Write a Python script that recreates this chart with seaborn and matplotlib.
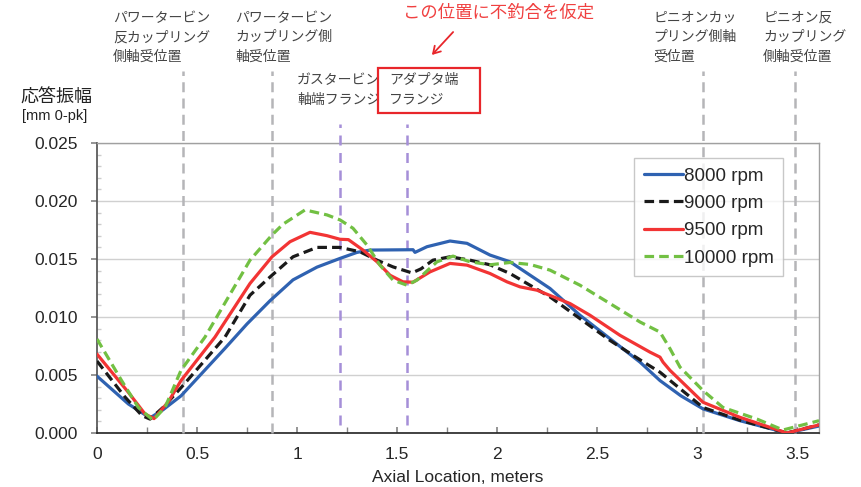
import numpy as np
import pandas as pd
import matplotlib
matplotlib.use("Agg")
import matplotlib.pyplot as plt
from matplotlib.patches import Rectangle, FancyArrowPatch
from matplotlib.ticker import MultipleLocator, FormatStrFormatter, FuncFormatter
import seaborn as sns

# ---------------- data ----------------
x_8000 = [0, 0.157, 0.265, 0.33, 0.42, 0.64, 0.75, 0.865, 0.98, 1.1, 1.215, 1.3, 1.365, 1.58,
          1.59, 1.65, 1.765, 1.85, 1.965, 2.065, 2.265, 2.415, 2.565, 2.715, 2.815, 2.92, 3.03,
          3.215, 3.45, 3.61]
y_8000 = [0.0049, 0.0025, 0.0013, 0.0020, 0.0032, 0.0073, 0.0094, 0.0114, 0.0132, 0.0143, 0.01505,
          0.01557, 0.01577, 0.0158, 0.01557, 0.01606, 0.01655, 0.01635, 0.01534, 0.01476, 0.01246,
          0.01015, 0.00813, 0.00611, 0.00452, 0.0032, 0.00208, 0.00106, 0.0000, 0.0006]

x_9000 = [0, 0.14, 0.225, 0.265, 0.33, 0.42, 0.64, 0.765, 0.875, 0.98, 1.1, 1.215, 1.315, 1.4,
          1.48, 1.575, 1.62, 1.68, 1.765, 1.865, 1.965, 2.065, 2.265, 2.415, 2.565, 2.715, 2.815,
          3.03, 3.215, 3.45, 3.61]
y_9000 = [0.0062, 0.0031, 0.0015, 0.0012, 0.0022, 0.0039, 0.00827, 0.01188, 0.0136, 0.01519,
          0.0160, 0.0160, 0.01562, 0.0149, 0.01432, 0.0138, 0.01415, 0.0149, 0.01519, 0.0149,
          0.0145, 0.01375, 0.01173, 0.00986, 0.00798, 0.00631, 0.00524, 0.0022, 0.0011, 0.0000,
          0.0007]

x_9500 = [0, 0.157, 0.24, 0.285, 0.357, 0.42, 0.59, 0.765, 0.875, 0.965, 1.065, 1.15, 1.215,
          1.257, 1.33, 1.4, 1.465, 1.53, 1.58, 1.665, 1.765, 1.85, 1.965, 2.05, 2.115, 2.2, 2.365,
          2.465, 2.615, 2.765, 2.815, 2.83, 2.865, 3.03, 3.215, 3.45, 3.61]
y_9500 = [0.0068, 0.0035, 0.00164, 0.00124, 0.0027, 0.00452, 0.00827, 0.01289, 0.01519, 0.01649,
          0.0173, 0.01701, 0.0167, 0.01667, 0.01577, 0.01476, 0.0136, 0.01303, 0.0130, 0.01389,
          0.01462, 0.01447, 0.01375, 0.01303, 0.0126, 0.01231, 0.01116, 0.01015, 0.00842, 0.00697,
          0.00654, 0.00611, 0.0054, 0.00265, 0.00135, 0.0000, 0.0007]

x_10000 = [0, 0.123, 0.207, 0.28, 0.34, 0.42, 0.54, 0.765, 0.875, 0.93, 1.04, 1.15, 1.215, 1.28,
           1.35, 1.415, 1.48, 1.55, 1.6, 1.7, 1.78, 1.865, 1.965, 2.065, 2.165, 2.265, 2.415,
           2.565, 2.715, 2.815, 2.865, 2.915, 3.03, 3.13, 3.3, 3.43, 3.61]
y_10000 = [0.0081, 0.00452, 0.0022, 0.0011, 0.0022, 0.0054, 0.00827, 0.0149, 0.01707, 0.0180,
           0.01923, 0.0188, 0.01837, 0.01765, 0.0162, 0.01447, 0.01318, 0.01274, 0.01318, 0.01476,
           0.01525, 0.01476, 0.0145, 0.0147, 0.01453, 0.01404, 0.01274, 0.01116, 0.00957, 0.0087,
           0.00727, 0.00568, 0.00366, 0.0022, 0.0012, 0.00026, 0.00106]

series_names = ["8000 rpm", "9000 rpm", "9500 rpm", "10000 rpm"]
series_x = [x_8000, x_9000, x_9500, x_10000]
series_y = [y_8000, y_9000, y_9500, y_10000]

bearing_x = [0.43, 0.875, 3.03, 3.49]
bearing_labels = ["パワータービン\n反カップリング\n側軸受位置",
                  "パワータービン\nカップリング側\n軸受位置",
                  "ピニオンカッ\nプリング側軸\n受位置",
                  "ピニオン反\nカップリング\n側軸受位置"]
flange_x = [1.215, 1.55]
flange_labels = ["ガスタービン\n軸端フランジ", "アダプタ端\nフランジ"]
note_text = "この位置に不釣合を仮定"
x_label = "Axial Location, meters"
y_label = "応答振幅"
y_unit = "[mm 0-pk]"

# ---------------- style ----------------
sns.set_theme(style="white")
plt.rcParams['font.family'] = ['Liberation Sans', 'Noto Sans CJK JP', 'DejaVu Sans']
CJK = ['Noto Sans CJK JP', 'DejaVu Sans']

colors = ["#2f62b1", "#1a1a1a", "#f23434", "#72c043"]
dash_styles = [None, (3.0, 1.6), None, (3.0, 1.6)]

W, H = 861, 487
fig = plt.figure(figsize=(W / 100, H / 100), dpi=100)
ax = fig.add_axes([97 / W, 1 - 433 / H, (819 - 97) / W, (433 - 143) / H])

frames = []
for name, xs, ys in zip(series_names, series_x, series_y):
    frames.append(pd.DataFrame({"x": xs, "y": ys, "series": name}))
df = pd.concat(frames, ignore_index=True)

for name, c in zip(series_names, colors):
    sub = df[df["series"] == name]
    sns.lineplot(data=sub, x="x", y="y", ax=ax, color=c, lw=2.3,
                 sort=False, estimator=None, label=name, zorder=5)
for ln, d in zip(ax.get_lines(), dash_styles):
    ln.set_solid_joinstyle("round")
    if d is not None:
        ln.set_dashes(d)
        ln.set_dash_capstyle("butt")

ax.set_xlim(0, 3.61)
ax.set_ylim(0, 0.025)

# vertical reference lines (extend above the axes)
for xv in bearing_x:
    ax.plot([xv, xv], [0, 0.0312], color="#b5b5b8", lw=1.8, dashes=(4, 2.5),
            clip_on=False, zorder=3)
for xv in flange_x:
    ax.plot([xv, xv], [0.0007, 0.0266], color="#a58fd8", lw=1.8, dashes=(4, 3),
            clip_on=False, zorder=3)

# ticks / grid
ax.xaxis.set_major_locator(MultipleLocator(0.5))
ax.xaxis.set_minor_locator(MultipleLocator(0.25))
ax.yaxis.set_major_locator(MultipleLocator(0.005))
ax.yaxis.set_minor_locator(MultipleLocator(0.001))
ax.yaxis.set_major_formatter(FormatStrFormatter("%.3f"))
ax.xaxis.set_major_formatter(FuncFormatter(lambda v, p: f"{v:g}"))
ax.grid(axis="y", which="major", color="#d0d0d0", lw=1.0)
ax.grid(axis="x", visible=False)
ax.tick_params(axis="x", which="both", direction="in", length=4, color="#888888",
               labelsize=12.5, pad=10, bottom=True)
ax.tick_params(axis="y", which="major", direction="out", length=4, color="#888888",
               labelsize=12.5, pad=10, left=True)
ax.tick_params(axis="y", which="minor", direction="in", length=3, color="#cccccc", left=True)
for s in ["top", "right"]:
    ax.spines[s].set_color("#a0a0a0")
    ax.spines[s].set_linewidth(1.0)
ax.spines["left"].set_color("#555555")
ax.spines["bottom"].set_color("#222222")
ax.spines["bottom"].set_linewidth(1.2)

ax.set_xlabel(x_label, fontsize=12.5, labelpad=6)
ax.set_ylabel("")

leg = ax.legend(loc="upper left", bbox_to_anchor=(0.744, 0.948), borderaxespad=0,
                fontsize=13.5, handlelength=2.1, handletextpad=0.05, labelspacing=0.55,
                frameon=True, fancybox=False, borderpad=0.5)
leg.get_frame().set_edgecolor("#bbbbbb")
leg.get_frame().set_linewidth(1.0)
leg.set_zorder(10)

# annotations in figure pixel coords
def ftext(px, py, s, **kw):
    fig.text(px / W, 1 - py / H, s, **kw)

ftext(20, 98, y_label, family=CJK, fontsize=13, va="center", ha="left", color="#222222")
ftext(22, 116, y_unit, fontsize=10.5, va="center", ha="left", color="#222222")

label_pos = [(113, 11), (235, 11), (653, 11), (763, 11)]
for (px, py), s in zip(label_pos, bearing_labels):
    ftext(px, py, s, family=CJK, fontsize=10, va="top", ha="left", color="#444444",
          linespacing=1.47)

ftext(297, 73, flange_labels[0], family=CJK, fontsize=10, va="top", ha="left",
      color="#444444", linespacing=1.5, zorder=1)
box = Rectangle((378 / W, 1 - 113 / H), 102 / W, 45 / H, transform=fig.transFigure,
                facecolor="white", edgecolor="#e8262b", lw=1.6, zorder=5)
fig.add_artist(box)
ftext(389, 73, flange_labels[1], family=CJK, fontsize=10, va="top", ha="left",
      color="#444444", linespacing=1.5, zorder=6)

ftext(403, 13, note_text, family=CJK, fontsize=12.5, va="center", ha="left", color="#f04040")
arrow = FancyArrowPatch((455 / W, 1 - 30 / H), (430 / W, 1 - 57 / H), transform=fig.transFigure,
                        arrowstyle="->,head_length=5,head_width=3", color="#e8262b", lw=1.3)
fig.add_artist(arrow)

fig.savefig("out.png", dpi=100, facecolor="white")
